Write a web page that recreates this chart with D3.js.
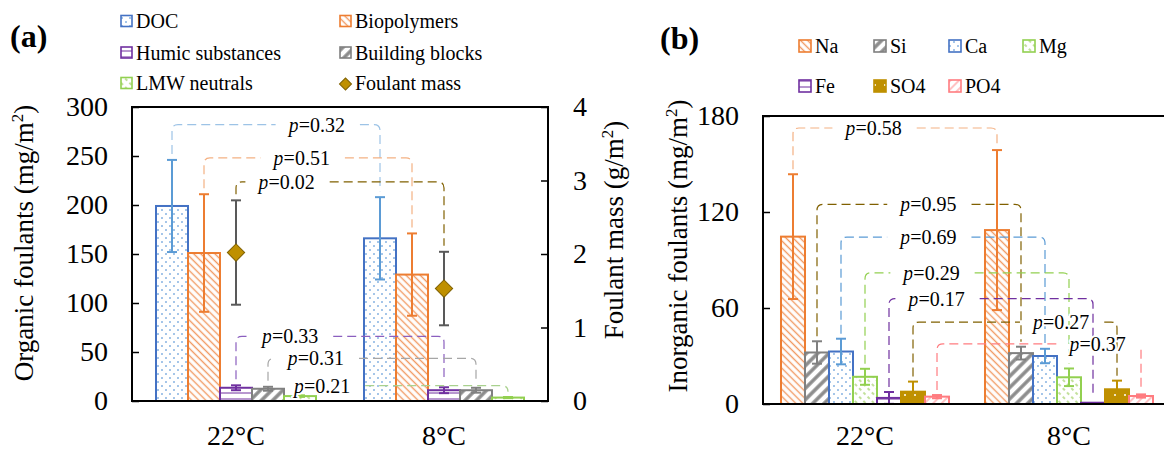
<!DOCTYPE html>
<html><head><meta charset="utf-8">
<script src="https://cdn.jsdelivr.net/npm/d3@7"></script>
<style>
body{margin:0;background:#fff;}
svg text{font-family:"Liberation Serif","Times New Roman",serif;fill:#000;}
</style></head><body>
<svg id="chart" width="1164" height="450" font-family="Liberation Serif, Times New Roman, serif"></svg>
<script>
// ---------------- DATA ----------------
const categories = ["22°C", "8°C"];

const organicSeries = ["DOC", "Biopolymers", "Humic substances", "Building blocks", "LMW neutrals"];
const organicMean22 = [199, 151, 13.5, 12.5, 5];
const organicErr22  = [47, 60, 2.5, 2, 0.8];
const organicMean8  = [166, 129, 11, 11, 3.5];
const organicErr8   = [42, 42, 3, 2.5, 0.6];
const massMean = [2.02, 1.53];
const massErr  = [0.71, 0.50];
const organicTicks = [0, 50, 100, 150, 200, 250, 300];
const massTicks = [0, 1, 2, 3, 4];
const organicPValues = ["0.32", "0.51", "0.33", "0.31", "0.21"];
const organicPLevels = [282, 248, 66, 43.5, 15.6];
const massPValue = "0.02";
const massPLevel = 2.98;

const inorganicSeries = ["Na", "Si", "Ca", "Mg", "Fe", "SO4", "PO4"];
const inorganicMean22 = [104.6, 32.2, 32.8, 17, 3.8, 7.7, 4.6];
const inorganicErr22  = [39, 7, 8, 5, 3.7, 6.3, 1];
const inorganicMean8  = [108.7, 31.8, 30, 16.7, 0.8, 9.2, 5];
const inorganicErr8   = [50, 4, 4.5, 5.5, 0, 5.4, 1];
const inorganicTicks = [0, 60, 120, 180];
const inorganicPValues = ["0.58", "0.95", "0.69", "0.29", "0.17", "0.27", "0.37"];
const inorganicPLevels = [172.5, 124.8, 104.3, 82, 65.9, 51.2, 37.6];

// ---------------- LAYOUT / STYLE ----------------
const organicLabelAt = [0.696, 0.47, 0.26, 0.23, 0.106];
const massLabelAt = 0.243;
const inorganicLabelAt = [0.395, 0.546, 0.428, 0.326, 0.233, 0.726, 0.787];
const organicPColors = ["#9DC3E6", "#F4B183", "#8B5FBF", "#A6A6A6", "#A9D18E"];
const massPColor = "#806000";
const inorganicPColors = ["#F4B183", "#806000", "#5B9BD5", "#92D050", "#7030A0", "#806000", "#FF7C80"];

const style = {
  "DOC": {stroke: "#4472C4", err: "#5B9BD5", fill: "url(#pDots)"},
  "Biopolymers": {stroke: "#ED7D31", err: "#ED7D31", fill: "url(#pOrange)"},
  "Humic substances": {stroke: "#7030A0", err: "#7030A0", fill: "url(#pPurple)"},
  "Building blocks": {stroke: "#808080", err: "#808080", fill: "url(#pGray)"},
  "LMW neutrals": {stroke: "#92D050", err: "#92D050", fill: "url(#pGreen)"},
  "Na": {stroke: "#ED7D31", err: "#ED7D31", fill: "url(#pOrange)"},
  "Si": {stroke: "#808080", err: "#808080", fill: "url(#pGray)"},
  "Ca": {stroke: "#4472C4", err: "#5B9BD5", fill: "url(#pDots)"},
  "Mg": {stroke: "#92D050", err: "#92D050", fill: "url(#pGreen)"},
  "Fe": {stroke: "#7030A0", err: "#7030A0", fill: "url(#pPurple)"},
  "SO4": {stroke: "#BF9000", err: "#BF9000", fill: "url(#pGold)"},
  "PO4": {stroke: "#FF7C80", err: "#FF7C80", fill: "url(#pPink)"}
};

const FONT = "Liberation Serif, Times New Roman, serif";
const svg = d3.select("#chart");
const defs = svg.append("defs");

function hatch(id, w, angle, color, sw, dash) {
  const p = defs.append("pattern").attr("id", id).attr("patternUnits", "userSpaceOnUse")
    .attr("width", w).attr("height", w).attr("patternTransform", `rotate(${angle})`);
  p.append("rect").attr("width", w).attr("height", w).attr("fill", "#fff");
  p.append("line").attr("x1", w / 2).attr("y1", 0).attr("x2", w / 2).attr("y2", w)
    .attr("stroke", color).attr("stroke-width", sw).attr("stroke-dasharray", dash || null);
}
hatch("pOrange", 5, -45, "#F19A63", 1.4);
hatch("pGray", 8, 45, "#8C8C8C", 3.5);
hatch("pGreen", 6, -45, "#A9D470", 1.4, "3,3");
hatch("pPink", 6, 45, "#FF9A9C", 1.2);
{
  const p = defs.append("pattern").attr("id", "pDots").attr("patternUnits", "userSpaceOnUse").attr("width", 8).attr("height", 8);
  p.append("rect").attr("width", 8).attr("height", 8).attr("fill", "#fff");
  p.append("circle").attr("cx", 2).attr("cy", 2).attr("r", 0.95).attr("fill", "#7FAEE0");
  p.append("circle").attr("cx", 6).attr("cy", 6).attr("r", 0.95).attr("fill", "#7FAEE0");
}
{
  const p = defs.append("pattern").attr("id", "pPurple").attr("patternUnits", "userSpaceOnUse").attr("width", 6).attr("height", 6);
  p.append("rect").attr("width", 6).attr("height", 6).attr("fill", "#fff");
  p.append("line").attr("x1", 0).attr("x2", 6).attr("y1", 3).attr("y2", 3).attr("stroke", "#7030A0").attr("stroke-width", 1);
}
{
  const p = defs.append("pattern").attr("id", "pGold").attr("patternUnits", "userSpaceOnUse").attr("width", 10).attr("height", 10);
  p.append("rect").attr("width", 10).attr("height", 10).attr("fill", "#BF9000");
  p.append("circle").attr("cx", 5).attr("cy", 5).attr("r", 1).attr("fill", "#fff");
}

function txt(parent) {
  return parent.append("text").attr("font-family", FONT).attr("fill", "#000");
}

function styleAxis(g, size) {
  g.select(".domain").remove();
  g.selectAll(".tick line").attr("stroke", "#000").attr("stroke-width", 1.5);
  g.selectAll(".tick text").attr("font-size", size).attr("font-family", FONT).attr("fill", "#000");
  g.attr("font-family", FONT).attr("font-size", null);
}

function pLabel(g, x, y, p) {
  const t = txt(g).attr("x", x).attr("y", y).attr("text-anchor", "middle")
    .attr("font-size", 20)
    .attr("stroke", "#fff").attr("stroke-width", 4).attr("paint-order", "stroke").attr("stroke-linejoin", "round");
  t.append("tspan").attr("font-style", "italic").attr("font-family", FONT).text("p");
  t.append("tspan").attr("font-family", FONT).text("=" + p);
  return t.node().getComputedTextLength();
}

function bracket(gLines, gText, x1, x2, yLevel, yEnd1, yEnd2, labelAt, p, color) {
  const r = 6, padL = 13, padR = 15;
  const cx = x1 + labelAt * (x2 - x1);
  const w = pLabel(gText, cx, yLevel + 7, p);
  const gs = cx - w / 2 - padL, ge = cx + w / 2 + padR;
  const line = (d) => gLines.append("path").attr("d", d).attr("fill", "none")
    .attr("stroke", color).attr("stroke-width", 1.2).attr("stroke-dasharray", "9,5");
  if (gs > x1 + r) {
    line(`M${x1},${yEnd1}L${x1},${yLevel + r}Q${x1},${yLevel} ${x1 + r},${yLevel}L${gs},${yLevel}`);
  }
  if (ge < x2 - r) {
    line(`M${ge},${yLevel}L${x2 - r},${yLevel}Q${x2},${yLevel} ${x2},${yLevel + r}L${x2},${yEnd2}`);
  } else {
    line(`M${x2},${yLevel + r}L${x2},${yEnd2}`);
  }
}

function drawBars(g, x, x1, y, series, means, errs) {
  categories.forEach((c, i) => {
    series.forEach((s, j) => {
      const m = means[i][j];
      g.append("rect").attr("x", x(c) + x1(s)).attr("width", x1.bandwidth())
        .attr("y", y(m)).attr("height", y(0) - y(m))
        .attr("fill", style[s].fill).attr("stroke", style[s].stroke).attr("stroke-width", 2);
    });
  });
  categories.forEach((c, i) => {
    series.forEach((s, j) => {
      const m = means[i][j], e = errs[i][j];
      if (e <= 0) return;
      const cx = x(c) + x1(s) + x1.bandwidth() / 2;
      const eg = g.append("g").attr("stroke", style[s].err).attr("stroke-width", 2);
      eg.append("line").attr("x1", cx).attr("x2", cx).attr("y1", y(m - e)).attr("y2", y(m + e));
      eg.append("line").attr("x1", cx - 5).attr("x2", cx + 5).attr("y1", y(m - e)).attr("y2", y(m - e));
      eg.append("line").attr("x1", cx - 5).attr("x2", cx + 5).attr("y1", y(m + e)).attr("y2", y(m + e));
    });
  });
}

function yTitle(x, y, label) {
  const t = txt(svg).attr("transform", `translate(${x},${y}) rotate(-90)`)
    .attr("text-anchor", "middle").attr("font-size", 27);
  t.append("tspan").attr("font-family", FONT).text(label);
  t.append("tspan").attr("font-family", FONT).attr("font-size", 17).attr("dy", -10).text("2");
  t.append("tspan").attr("font-family", FONT).attr("dy", 10).text(")");
}

// ================= PANEL (a) =================
const xA = d3.scaleBand().domain(categories).range([132, 548]);
const bwA = xA.bandwidth();
const xA1 = d3.scaleBand().domain(organicSeries).range([bwA * 0.1154, bwA * 0.8846]);
const yA = d3.scaleLinear().domain([0, 300]).range([401, 107]);
const yA2 = d3.scaleLinear().domain([0, 4]).range([401, 107]);

const gA = svg.append("g");
drawBars(gA, xA, xA1, yA, organicSeries, [organicMean22, organicMean8], [organicErr22, organicErr8]);

// foulant mass diamonds
categories.forEach((c, i) => {
  const cx = xA(c) + bwA / 2;
  const eg = gA.append("g").attr("stroke", "#595959").attr("stroke-width", 2);
  eg.append("line").attr("x1", cx).attr("x2", cx).attr("y1", yA2(massMean[i] - massErr[i])).attr("y2", yA2(massMean[i] + massErr[i]));
  [massMean[i] - massErr[i], massMean[i] + massErr[i]].forEach(v =>
    eg.append("line").attr("x1", cx - 5).attr("x2", cx + 5).attr("y1", yA2(v)).attr("y2", yA2(v)));
  gA.append("path").attr("d", d3.symbol(d3.symbolSquare, 150)())
    .attr("transform", `translate(${cx},${yA2(massMean[i])}) rotate(45)`)
    .attr("fill", "#BF9000").attr("stroke", "#7F6000").attr("stroke-width", 1);
});

gA.append("rect").attr("x", 132).attr("y", 107).attr("width", 416).attr("height", 294)
  .attr("fill", "none").attr("stroke", "#000").attr("stroke-width", 2);
const axAL = gA.append("g").attr("transform", "translate(132,0)")
  .call(d3.axisLeft(yA).tickValues(organicTicks).tickSize(-7).tickPadding(24));
styleAxis(axAL, 28);
const axAR = gA.append("g").attr("transform", "translate(548,0)")
  .call(d3.axisRight(yA2).tickValues(massTicks).tickFormat(d3.format("d")).tickSize(-7).tickPadding(25));
styleAxis(axAR, 28);

categories.forEach(c => txt(gA).attr("x", xA(c) + bwA / 2).attr("y", 445)
  .attr("text-anchor", "middle").attr("font-size", 28).text(c));

const bLinesA = gA.append("g"), bTextA = gA.append("g");
organicSeries.forEach((s, j) => {
  const xl = xA(categories[0]) + xA1(s) + xA1.bandwidth() / 2;
  const xr = xA(categories[1]) + xA1(s) + xA1.bandwidth() / 2;
  const e1 = yA(organicMean22[j] + organicErr22[j]) - 6;
  const e2 = yA(organicMean8[j] + organicErr8[j]) - 6;
  bracket(bLinesA, bTextA, xl, xr, yA(organicPLevels[j]), e1, e2, organicLabelAt[j], organicPValues[j], organicPColors[j]);
});
{
  const xl = xA(categories[0]) + bwA / 2, xr = xA(categories[1]) + bwA / 2;
  bracket(bLinesA, bTextA, xl, xr, yA2(massPLevel),
    yA2(massMean[0] + massErr[0]) - 6, yA2(massMean[1] + massErr[1]) - 6,
    massLabelAt, massPValue, massPColor);
}

yTitle(33, 243, "Organic foulants (mg/m");
yTitle(623, 230, "Foulant mass (g/m");

txt(svg).attr("x", 10).attr("y", 47).attr("font-size", 32).attr("font-weight", "bold").text("(a)");

// legend (a)
const legA = [
  {name: "DOC", x: 121, y: 21}, {name: "Biopolymers", x: 340, y: 21},
  {name: "Humic substances", x: 121, y: 52.5}, {name: "Building blocks", x: 340, y: 52.5},
  {name: "LMW neutrals", x: 121, y: 83}
];
legA.forEach(d => {
  svg.append("rect").attr("x", d.x).attr("y", d.y - 5.5).attr("width", 11).attr("height", 11)
    .attr("fill", style[d.name].fill).attr("stroke", style[d.name].stroke).attr("stroke-width", 1.6);
  txt(svg).attr("x", d.x + 15).attr("y", d.y + 7).attr("font-size", 20).text(d.name);
});
svg.append("path").attr("d", d3.symbol(d3.symbolSquare, 72)())
  .attr("transform", "translate(345.5,84) rotate(45)")
  .attr("fill", "#BF9000").attr("stroke", "#7F6000").attr("stroke-width", 1);
txt(svg).attr("x", 355).attr("y", 90).attr("font-size", 20).text("Foulant mass");

// ================= PANEL (b) =================
const xB = d3.scaleBand().domain(categories).range([763, 1171]);
const bwB = xB.bandwidth();
const xB1 = d3.scaleBand().domain(inorganicSeries).range([bwB * 0.0882, bwB * 0.9118]);
const yB = d3.scaleLinear().domain([0, 180]).range([404, 116]);

const gB = svg.append("g");
drawBars(gB, xB, xB1, yB, inorganicSeries, [inorganicMean22, inorganicMean8], [inorganicErr22, inorganicErr8]);
gB.append("rect").attr("x", 763).attr("y", 116).attr("width", 408).attr("height", 288)
  .attr("fill", "none").attr("stroke", "#000").attr("stroke-width", 2);
const axBL = gB.append("g").attr("transform", "translate(763,0)")
  .call(d3.axisLeft(yB).tickValues(inorganicTicks).tickSize(-7).tickPadding(24));
styleAxis(axBL, 28);
categories.forEach(c => txt(gB).attr("x", xB(c) + bwB / 2).attr("y", 445)
  .attr("text-anchor", "middle").attr("font-size", 28).text(c));

const bLinesB = gB.append("g"), bTextB = gB.append("g");
inorganicSeries.forEach((s, j) => {
  const xl = xB(categories[0]) + xB1(s) + xB1.bandwidth() / 2;
  const xr = xB(categories[1]) + xB1(s) + xB1.bandwidth() / 2;
  const e1 = yB(inorganicMean22[j] + inorganicErr22[j]) - 5;
  const e2 = yB(inorganicMean8[j] + inorganicErr8[j]) - 5;
  bracket(bLinesB, bTextB, xl, xr, yB(inorganicPLevels[j]), e1, e2, inorganicLabelAt[j], inorganicPValues[j], inorganicPColors[j]);
});
bTextB.raise();

yTitle(687, 246, "Inorganic foulants (mg/m");
txt(svg).attr("x", 660).attr("y", 49).attr("font-size", 32).attr("font-weight", "bold").text("(b)");

// legend (b)
const legBX = [799, 874, 949, 1023];
inorganicSeries.forEach((s, j) => {
  const x = legBX[j % 4], y = j < 4 ? 46 : 86;
  svg.append("rect").attr("x", x).attr("y", y - 6).attr("width", 12).attr("height", 12)
    .attr("fill", style[s].fill).attr("stroke", style[s].stroke).attr("stroke-width", 1.6);
  txt(svg).attr("x", x + 16).attr("y", y + 6.5).attr("font-size", 20).text(s);
});
</script>
</body></html>
